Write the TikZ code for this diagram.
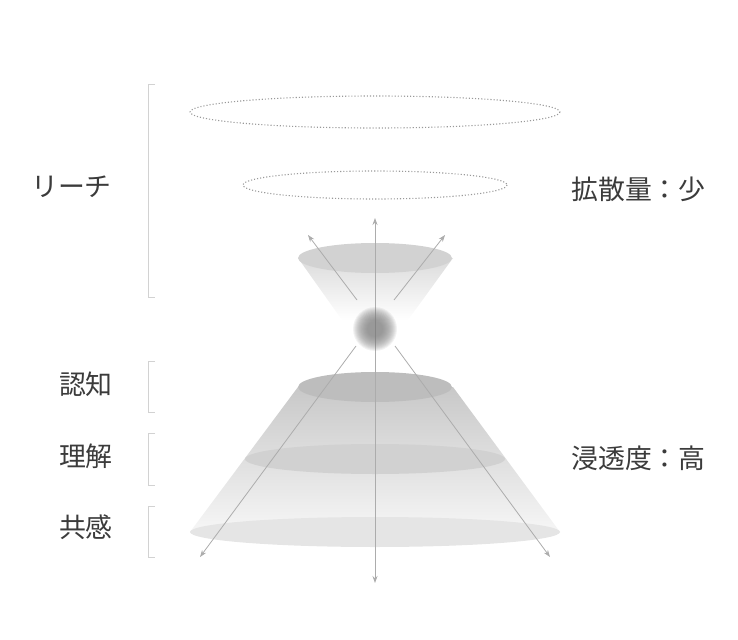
\documentclass[tikz,border=0pt]{standalone}
\usepackage{fontspec}
\setmainfont{Noto Sans CJK JP}
\usetikzlibrary{arrows.meta}
\newcommand{\labelSize}[0]{\fontsize{27}{32}\selectfont}
\newcommand{\stageBracket}[2]{\draw[brace] (155,#1) -- (148,#1) -- (148,#2) -- (155,#2);}

\begin{document}
\begin{tikzpicture}[x=1bp, y=-1bp]
  \tikzset{
    rim/.style={draw=gray!80, dotted, line width=1.1bp},
    flow/.style={draw=gray!65, line width=0.8bp, -{Stealth[length=7bp,width=5bp]}},
    brace/.style={draw=gray!35, line width=1bp},
    stage/.style={anchor=east, text=black!77, font=\labelSize, inner sep=0pt},
    note/.style={anchor=west, text=black!77, font=\labelSize, inner sep=0pt}
  }
  \useasboundingbox (0,0) rectangle (738,640);
  % reach rings
  \draw[rim] (375,112) ellipse [x radius=185, y radius=16];
  \draw[rim] (375,185) ellipse [x radius=132, y radius=14];
  % upper cone
  \shade[top color=gray!28, bottom color=white] (298,258) -- (453,258) -- (408,320) -- (342,320) -- cycle;
  \fill[gray!35] (375,258) ellipse [x radius=77, y radius=15];
  % lower cone
  \shade[top color=gray!43, bottom color=gray!7] (298,387) -- (453,387) -- (560,532) -- (190,532) -- cycle;
  \fill[gray!20] (375,532) ellipse [x radius=185, y radius=15];
  \fill[gray!36] (375,459) ellipse [x radius=130, y radius=15];
  \fill[gray!52] (375,387) ellipse [x radius=77, y radius=15];
  % arrows
  \coordinate (core) at (375,329);
  \coordinate (axisTop) at (375,218);
  \coordinate (axisBot) at (375,583);
  \coordinate (upL0) at (357,300);
  \coordinate (upL1) at (308,235);
  \coordinate (upR0) at (394,300);
  \coordinate (upR1) at (445,235);
  \coordinate (dnL0) at (356,346);
  \coordinate (dnL1) at (200,557);
  \coordinate (dnR0) at (395,346);
  \coordinate (dnR1) at (550,557);
  \draw[flow, {Stealth[length=7bp,width=5bp]}-{Stealth[length=7bp,width=5bp]}] (axisBot) -- (axisTop);
  \draw[flow] (upL0) -- (upL1);
  \draw[flow] (upR0) -- (upR1);
  \draw[flow] (dnL0) -- (dnL1);
  \draw[flow] (dnR0) -- (dnR1);
  % core (soft glow)
  \foreach \r in {8,...,22}
    \fill[gray, opacity=0.1] (core) circle (\r);
  % stages
  \stageBracket{85}{297}
  \stageBracket{361}{412}
  \stageBracket{433}{485}
  \stageBracket{506}{557}
  \node[stage] (reach) at (112,187) {リーチ};
  \node[stage] (aware) at (113,384) {認知};
  \node[stage] (grasp) at (113,456) {理解};
  \node[stage] (empathy) at (113,527) {共感};
  \node[note] (spread) at (571,189) {拡散量：少};
  \node[note] (depth) at (571,458) {浸透度：高};
\end{tikzpicture}
\end{document}
